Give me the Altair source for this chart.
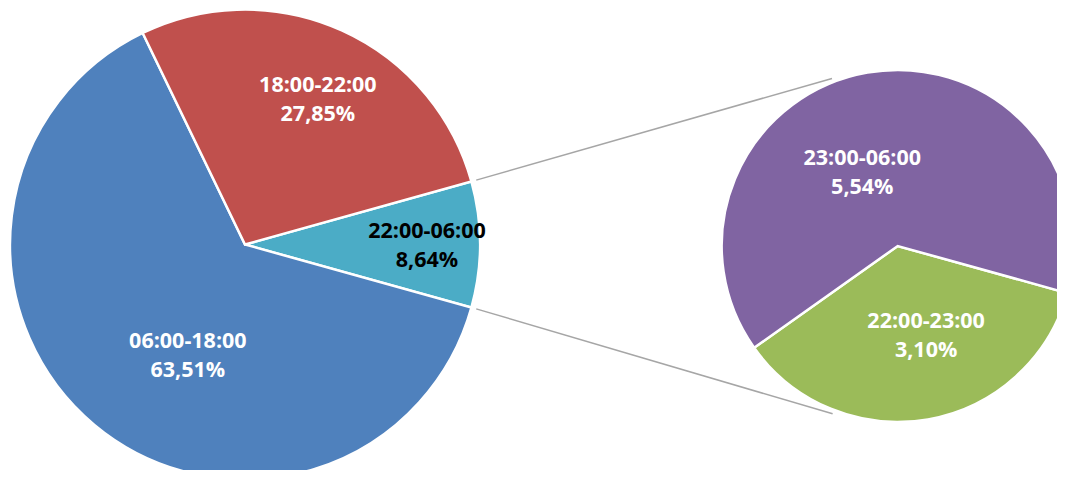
import math
import pandas as pd
import altair as alt

# ---- data ----
left_cats = ["22:00-06:00", "06:00-18:00", "18:00-22:00"]
left_vals = [8.64, 63.51, 27.85]
left_pcts = ["8,64%", "63,51%", "27,85%"]

right_cats = ["22:00-23:00", "23:00-06:00"]
right_vals = [3.10, 5.54]
right_pcts = ["3,10%", "5,54%"]

all_cats = ["06:00-18:00", "18:00-22:00", "22:00-06:00", "23:00-06:00", "22:00-23:00"]
all_colors = ["#4F81BD", "#C0504D", "#4BACC6", "#8064A2", "#9BBB59"]

# ---- layout (pixels in plot area) ----
W, H = 1049, 462
LCX, LCY, LR = 237, 236.5, 235
RCX, RCY, RR = 889.7, 238, 176
L_START = 90 - 360 * left_vals[0] / 100 / 2     # teal slice centred at 3 o'clock
R_START = 105.5

FONT = "Open Sans"
LINE_H = 29
color_scale = alt.Scale(domain=all_cats, range=all_colors)


def make_df(cats, vals, pcts):
    return pd.DataFrame({
        "cat": cats,
        "v": vals,
        "ord": list(range(len(cats))),
        "label": [c + "\n" + p for c, p in zip(cats, pcts)],
    })


def pie(df, cx, cy, r, start_deg, label_specs):
    s = math.radians(start_deg)
    base = alt.Chart(df).encode(
        theta=alt.Theta("v:Q", stack=True, scale=alt.Scale(range=[s, s + 2 * math.pi])),
        order=alt.Order("ord:Q"),
        x=alt.value(cx),
        y=alt.value(cy),
    )
    arc = base.mark_arc(outerRadius=r, stroke="white", strokeWidth=2.5).encode(
        color=alt.Color("cat:N", scale=color_scale, legend=None)
    )
    texts = []
    for cat, lr, off_deg, col in label_specs:
        texts.append(
            base.mark_text(
                radius=lr,
                thetaOffset=math.radians(off_deg),
                font=FONT,
                fontSize=21.5,
                fontWeight="bold",
                color=col,
                lineBreak="\n",
                lineHeight=LINE_H,
                align="center",
                baseline="middle",
                dy=-LINE_H / 2,
            ).encode(
                text=alt.condition(alt.datum.cat == cat, alt.Text("label:N"), alt.value(""))
            )
        )
    return alt.layer(arc, *texts)


left_df = make_df(left_cats, left_vals, left_pcts)
right_df = make_df(right_cats, right_vals, right_pcts)

left = pie(left_df, LCX, LCY, LR, L_START, [
    ("06:00-18:00", 126, -12.9, "white"),
    ("18:00-22:00", 161, 2.6, "white"),
    ("22:00-06:00", 182, 0.5, "black"),
])
right = pie(right_df, RCX, RCY, RR, R_START, [
    ("23:00-06:00", 81, -16.0, "white"),
    ("22:00-23:00", 95, -7.5, "white"),
])


# connector lines: from the edges of the teal slice to the second pie
def polar(cx, cy, r, deg):
    a = math.radians(deg)
    return cx + r * math.sin(a), cy - r * math.cos(a)

teal_a0 = L_START
teal_a1 = L_START + 360 * left_vals[0] / 100
p0 = polar(LCX, LCY, LR + 5, teal_a0)
p1 = polar(LCX, LCY, LR + 5, teal_a1)
q0 = polar(RCX, RCY, RR + 4, 338.6)
q1 = polar(RCX, RCY, RR + 4, 201.2)
conn_df = pd.DataFrame({
    "x": [p0[0], p1[0]], "y": [p0[1], p1[1]],
    "x2": [q0[0], q1[0]], "y2": [q0[1], q1[1]],
})
connectors = alt.Chart(conn_df).mark_rule(color="#A6A6A6", strokeWidth=1.5).encode(
    x=alt.X("x:Q", scale=None), y=alt.Y("y:Q", scale=None),
    x2="x2:Q", y2="y2:Q",
)

chart = alt.layer(connectors, left, right).resolve_scale(theta="independent").properties(
    width=W, height=H, padding=0, autosize="none"
).configure_view(stroke=None)

chart.save("out.html", embed_options={"renderer": "svg", "actions": False})
